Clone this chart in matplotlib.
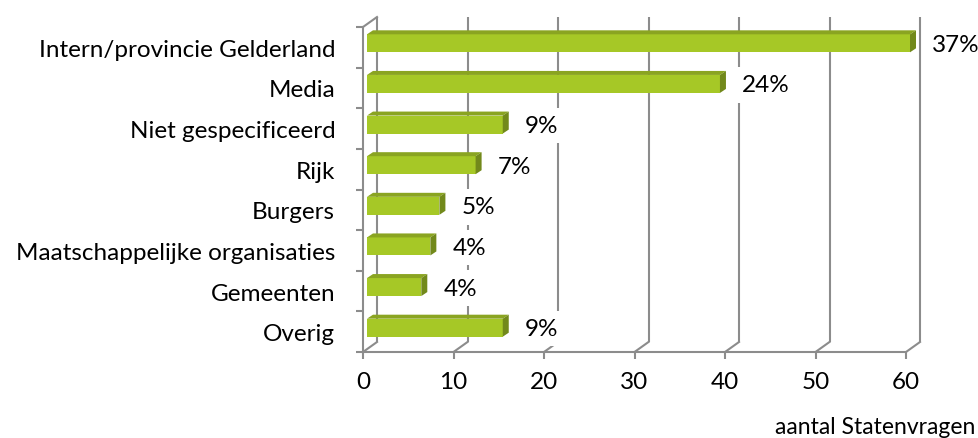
import numpy as np
import matplotlib
matplotlib.use("Agg")
import matplotlib.pyplot as plt
from matplotlib.patches import Polygon

# herkomst van Statenvragen
categories = [
    "Intern/provincie Gelderland",
    "Media",
    "Niet gespecificeerd",
    "Rijk",
    "Burgers",
    "Maatschappelijke organisaties",
    "Gemeenten",
    "Overig",
]
counts = [60, 39, 15, 12, 8, 7, 6, 15]
shares = ["37%", "24%", "9%", "7%", "5%", "4%", "4%", "9%"]
xticks = [0, 10, 20, 30, 40, 50, 60]

plt.rcParams.update({"font.family": ["Lato", "DejaVu Sans"], "font.size": 17.5})

W, H, DPI = 979, 439, 100
fig = plt.figure(figsize=(W / DPI, H / DPI), dpi=DPI)
# voorvlak van de 3D-grafiek in pixels
left_px, right_px, top_px, bottom_px = 363, 906, 28, 353
ax = fig.add_axes([left_px / W, (H - bottom_px) / H,
                   (right_px - left_px) / W, (bottom_px - top_px) / H])
n = len(categories)
ax.set_xlim(0, 60)
ax.set_ylim(n - 0.5, -0.5)

# pixels -> data-eenheden
ux = (right_px - left_px) / 60.0
uy = (bottom_px - top_px) / float(n)
def px_x(p):
    return p / ux
def px_y(p):
    return p / uy

grid_col = "#8C8C8C"
lw = 1.5
DX, DY = px_x(14), px_y(10)      # diepte van de wanden
y_lo, y_hi = n - 0.5, -0.5

# achterwand: verticale rasterlijnen
for v in xticks:
    ax.plot([v + DX, v + DX], [y_lo - DY, y_hi - DY], color=grid_col, lw=lw,
            zorder=1, clip_on=False, solid_capstyle="butt")
    ax.plot([v, v + DX], [y_lo, y_lo - DY], color=grid_col, lw=lw,
            zorder=1, clip_on=False)
ax.plot([0, DX], [y_hi, y_hi - DY], color=grid_col, lw=lw, zorder=1, clip_on=False)

# balken met voorkant, bovenkant en zijkant
front_col, top_col, side_col = "#A6C826", "#8AA421", "#72891B"
fx, fy = px_x(4), px_y(4)
bx, by = px_x(6), px_y(4)
h = px_y(18)
ypos = np.arange(n)
ax.barh(ypos - fy, counts, height=h, left=fx, color=front_col,
        edgecolor="none", zorder=3, clip_on=False)
for i, v in enumerate(counts):
    yt = i - fy - h / 2
    yb = i - fy + h / 2
    x0, x1 = fx, fx + v
    ax.add_patch(Polygon([(x0, yt), (x1, yt), (x1 + bx, yt - by), (x0 + bx, yt - by)],
                         closed=True, facecolor=top_col, edgecolor="none",
                         zorder=3, clip_on=False))
    ax.add_patch(Polygon([(x1, yt), (x1 + bx, yt - by), (x1 + bx, yb - by), (x1, yb)],
                         closed=True, facecolor=side_col, edgecolor="none",
                         zorder=3, clip_on=False))

# percentages met witte achtergrond
for i, (v, s) in enumerate(zip(counts, shares)):
    ax.annotate(s, xy=(v, i), xytext=(26, 3), textcoords="offset pixels",
                ha="left", va="center", fontsize=17.5, zorder=4, annotation_clip=False,
                bbox=dict(boxstyle="square,pad=0.3", facecolor="white", edgecolor="none"))

# assen
for side in ["top", "right"]:
    ax.spines[side].set_visible(False)
for side in ["left", "bottom"]:
    ax.spines[side].set_color(grid_col)
    ax.spines[side].set_linewidth(lw)
ax.set_facecolor("none")
ax.set_xticks(xticks)
ax.set_xticklabels([str(v) for v in xticks])
ax.tick_params(axis="x", length=5, width=lw, color=grid_col, pad=9, labelsize=17.5)
ax.set_yticks(ypos)
ax.set_yticklabels(categories)
ax.tick_params(axis="y", which="major", length=0, pad=20, labelsize=17.5)
ax.set_yticks(np.arange(n + 1) - 0.5, minor=True)
ax.tick_params(axis="y", which="minor", length=5, width=lw, color=grid_col)

ax.set_xlabel("aantal Statenvragen", fontsize=16.5, ha="right", va="center")
ax.xaxis.set_label_coords((975 - left_px) / (right_px - left_px),
                          -(428 - bottom_px) / (bottom_px - top_px))

fig.savefig("out.png", dpi=DPI)
